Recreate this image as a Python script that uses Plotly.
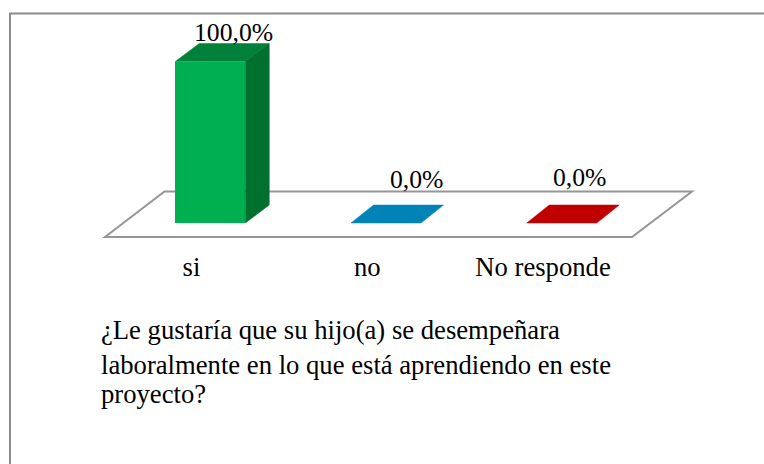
import plotly.graph_objects as go

# ---- data ----
categories = ["si", "no", "No responde"]
values = [100.0, 0.0, 0.0]
value_labels = ["100,0%", "0,0%", "0,0%"]
question_lines = ["¿Le gustaría que su hijo(a) se desempeñara",
                  "laboralmente en lo que está aprendiendo en este",
                  "proyecto?"]

# ---- style ----
W, H = 764, 464
FONT = "Liberation Serif"
FS = 26.67
FS_LABEL = 25.7
front_colors = ["#00B050", "#0084B8", "#C00000"]
top_colors = ["#008038", "#0084B8", "#C00000"]
side_colors = ["#00702F", "#0084B8", "#C00000"]
GRAY = "#969696"

PLOT_H = 246          # px height of plotting area
PX_X = 175.75         # px per category
X0_PX = 191.5         # px of first category
PX_Y = 1.615          # px per percent
Y0_PX = 223           # px of value 0
BAR_W = 70 / PX_X
BAR_SHIFT = 18.75 / PX_X
DEPTH_X = [24 / PX_X, 22.5 / PX_X, 22.5 / PX_X]
DEPTH_Y = 18 / PX_Y
label_dx = [23, 31, 18]
label_dy = [13, 27, 29]
question_tops = [314, 349, 378]

x_range = [(0 - X0_PX) / PX_X, (W - X0_PX) / PX_X]
y_range = [(Y0_PX - PLOT_H) / PX_Y, Y0_PX / PX_Y]


def xd(px):
    return (px - X0_PX) / PX_X


def yd(px):
    return (Y0_PX - px) / PX_Y


fig = go.Figure()
idx = list(range(len(categories)))

# 3D faces (top & side) derived from values
for i, v in zip(idx, values):
    l = i + BAR_SHIFT - BAR_W / 2
    r = i + BAR_SHIFT + BAR_W / 2
    dx, dy = DEPTH_X[i], DEPTH_Y
    fig.add_trace(go.Scatter(
        x=[l, r, r + dx, l + dx, l], y=[v, v, v + dy, v + dy, v],
        mode="lines", fill="toself", fillcolor=top_colors[i],
        line=dict(color=top_colors[i], width=0.5), hoverinfo="skip", showlegend=False))
    if v > 0:
        fig.add_trace(go.Scatter(
            x=[r, r + dx, r + dx, r, r], y=[0, dy, v + dy, v, 0],
            mode="lines", fill="toself", fillcolor=side_colors[i],
            line=dict(color=side_colors[i], width=0.5), hoverinfo="skip", showlegend=False))

# front faces
fig.add_trace(go.Bar(
    x=[i + BAR_SHIFT for i in idx], y=values, width=BAR_W,
    marker=dict(color=front_colors, line=dict(width=0)),
    hoverinfo="skip", showlegend=False))

# floor
floor = [(105, 237), (632, 237), (692, 191.5), (164.5, 191.5)]
path = "M " + " L ".join(f"{xd(a)} {yd(b)}" for a, b in floor) + " Z"
shapes = [
    dict(type="path", xref="x", yref="y", path=path, layer="below",
         fillcolor="white", line=dict(color=GRAY, width=2)),
    # chart frame
    dict(type="path", xref="paper", yref="paper", layer="below",
         path=f"M {10/W} 0 L {10/W} {1-13.5/H} L 1 {1-13.5/H}",
         line=dict(color="#8C8C8C", width=2)),
]

annotations = [
    dict(x=i + BAR_SHIFT, y=v, xref="x", yref="y", text=t, showarrow=False,
         xshift=label_dx[i], yshift=label_dy[i], xanchor="center", yanchor="bottom",
         font=dict(family=FONT, size=FS_LABEL, color="black"))
    for i, v, t in zip(idx, values, value_labels)
]
for line, top in zip(question_lines, question_tops):
    annotations.append(dict(
        x=100 / W, y=1 - top / H, xref="paper", yref="paper", text=line,
        showarrow=False, align="left", xanchor="left", yanchor="top", borderpad=0,
        font=dict(family=FONT, size=FS, color="black")))

fig.update_layout(
    width=W, height=H, margin=dict(l=0, r=0, t=0, b=0),
    paper_bgcolor="white", plot_bgcolor="rgba(0,0,0,0)",
    shapes=shapes, annotations=annotations, bargap=0,
    xaxis=dict(range=x_range, tickmode="array", tickvals=idx, ticktext=categories,
               showgrid=False, zeroline=False, showline=False, ticks="",
               ticklabelstandoff=2,
               tickfont=dict(family=FONT, size=FS, color="black"), fixedrange=True),
    yaxis=dict(range=y_range, domain=[1 - PLOT_H / H, 1], visible=False, fixedrange=True),
)

fig.write_html("out.html", config={"displayModeBar": False},
               post_script="document.body.style.margin='0';document.body.style.overflow='hidden';")
